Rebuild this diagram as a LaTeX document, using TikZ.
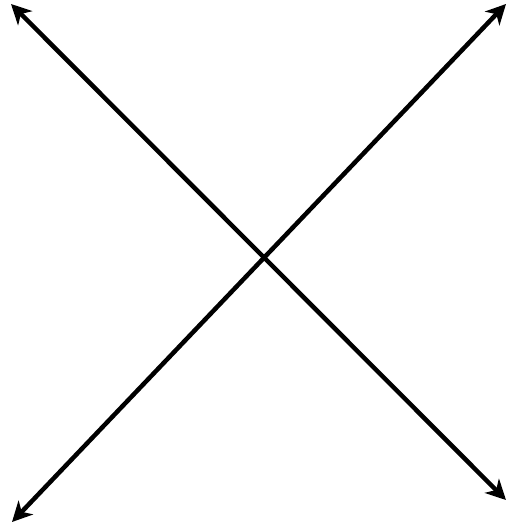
\documentclass[tikz,border=0pt]{standalone}
\usetikzlibrary{arrows.meta}
\begin{document}
\begin{tikzpicture}[x=1pt,y=-1pt,
  tipshape/.tip={Stealth[length=20pt,width=20pt,inset=6pt]},
  dbl/.style={line width=4.5pt,tipshape-tipshape}]
\useasboundingbox (0,0) rectangle (506,525);
\coordinate (tl) at (11,4);
\coordinate (br) at (506,500);
\coordinate (bl) at (12,522);
\coordinate (tr) at (506,4);
\draw[dbl] (tl) -- (br);
\draw[dbl] (bl) -- (tr);
\end{tikzpicture}
\end{document}
